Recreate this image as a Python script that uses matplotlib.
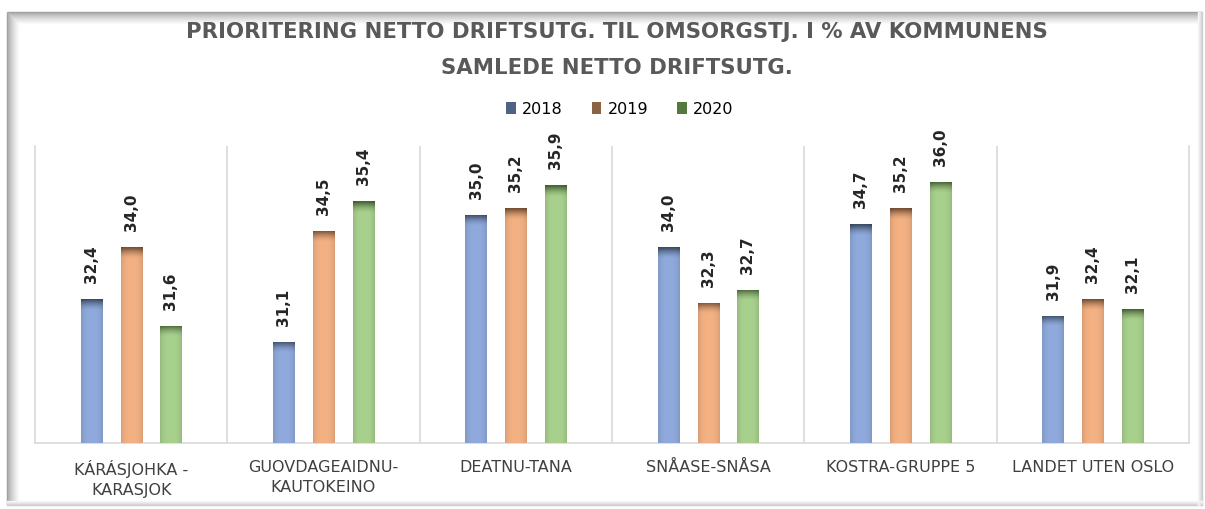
import matplotlib
matplotlib.use("Agg")
import matplotlib.pyplot as plt
import numpy as np
from matplotlib.colors import to_rgb
from matplotlib.patches import Patch, Rectangle

categories = ["KÁRÁSJOHKA -\nKARASJOK", "GUOVDAGEAIDNU-\nKAUTOKEINO", "DEATNU-TANA",
              "SNÅASE-SNÅSA", "KOSTRA-GRUPPE 5", "LANDET UTEN OSLO"]
series_names = ["2018", "2019", "2020"]
v2018 = [32.4, 31.1, 35.0, 34.0, 34.7, 31.9]
v2019 = [34.0, 34.5, 35.2, 32.3, 35.2, 32.4]
v2020 = [31.6, 35.4, 35.9, 32.7, 36.0, 32.1]
title = "PRIORITERING NETTO DRIFTSUTG. TIL OMSORGSTJ. I % AV KOMMUNENS\nSAMLEDE NETTO DRIFTSUTG."

series = [v2018, v2019, v2020]
main_cols = ["#8FAADC", "#F4B183", "#A9D18E"]
cap_cols = ["#3F4E68", "#7A5236", "#4A6637"]
leg_cols = ["#4F6285", "#8A6344", "#56783F"]

W, H = 1205, 509
fig = plt.figure(figsize=(W / 100, H / 100), dpi=100)
fig.patch.set_facecolor("white")

# background frame with inner shadow
bg = fig.add_axes([0, 0, 1, 1], zorder=-5)
bg.set_xlim(0, W)
bg.set_ylim(H, 0)
bg.axis("off")
L, T, R, B = 7, 12, 1202, 505
bg.add_patch(Rectangle((L, T), R - L, B - T, facecolor="white", edgecolor="none"))
for i in range(12):
    g = 0.62 + 0.38 * (i / 12) ** 0.7
    bg.plot([L + i, R], [T + i, T + i], color=(g, g, g), lw=1, solid_capstyle="butt")
    bg.plot([L + i, L + i], [T + i, B], color=(g, g, g), lw=1, solid_capstyle="butt")
for i in range(5):
    g = 0.80 + 0.2 * (i / 5)
    bg.plot([L, R], [B - i, B - i], color=(g, g, g), lw=1)
    bg.plot([R - i, R - i], [T, B], color=(g, g, g), lw=1)

ax_left, ax_right, ax_top, ax_bot = 35, 1189, 146, 443
ax = fig.add_axes([ax_left / W, 1 - ax_bot / H, (ax_right - ax_left) / W, (ax_bot - ax_top) / H])
ax.set_facecolor("none")
ymin, ymax = 28.0, 37.1
ax.set_xlim(-0.5, len(categories) - 0.5)
ax.set_ylim(ymin, ymax)

x = np.arange(len(categories))
offs = [-0.207, 0.0, 0.207]
bw = 0.11
px_per_unit = (ax_bot - ax_top) / (ymax - ymin)
cap = 11 / px_per_unit

for si, (vals, mc, cc) in enumerate(zip(series, main_cols, cap_cols)):
    bars = ax.bar(x + offs[si], vals, width=bw, color=mc, zorder=2, linewidth=0)
    for b, v in zip(bars, vals):
        x0 = b.get_x()
        x1 = x0 + b.get_width()
        n = 120
        ys = np.linspace(v, ymin, n)  # top row first
        xs = np.linspace(-1, 1, 20)
        img = np.zeros((n, 20, 3))
        base = np.array(to_rgb(mc))
        capc = np.array(to_rgb(cc))
        for r, yy in enumerate(ys):
            d = v - yy
            t = np.clip(d / cap, 0, 1)
            w = (1 - t) ** 1.6
            rowc = capc * w + base * (1 - w)
            for k, xx in enumerate(xs):
                edge = 1 - 0.10 * abs(xx) ** 3
                img[r, k] = np.clip(rowc * edge, 0, 1)
        im = ax.imshow(img, extent=(x0, x1, ymin, v), aspect="auto", zorder=3,
                       interpolation="bilinear")
        im.set_clip_path(b)
        ax.annotate(f"{v:.1f}".replace(".", ","), (b.get_x() + b.get_width() / 2, v),
                    xytext=(0, 16), textcoords="offset pixels", rotation=90,
                    ha="center", va="bottom", fontsize=11, fontweight="bold",
                    color="#262626", zorder=5)

ax.set_xlim(-0.5, len(categories) - 0.5)
ax.set_ylim(ymin, ymax)

ax.spines["top"].set_visible(False)
for s in ["left", "right", "bottom"]:
    ax.spines[s].set_color("#D9D9D9")
    ax.spines[s].set_linewidth(1.2)
for k in range(1, len(categories)):
    ax.axvline(k - 0.5, color="#D9D9D9", lw=1.2, zorder=1)

ax.set_yticks([])
ax.set_xticks(x)
ax.set_xticklabels(categories, fontsize=11.5, color="#404040", linespacing=1.45,
                   va="top")
ax.tick_params(axis="x", length=0, pad=12)

fig.text(617 / W, 1 - 50 / H, title, ha="center", va="center", fontsize=15.3,
         fontweight="bold", color="#595959", linespacing=1.95)

handles = [Patch(facecolor=c, edgecolor="none") for c in leg_cols]
fig.legend(handles, series_names, loc="center", bbox_to_anchor=(620 / W, 1 - 109 / H),
           ncol=3, frameon=False, fontsize=11.5, handlelength=0.6, handleheight=0.7,
           handletextpad=0.4, columnspacing=1.8)

fig.savefig("out.png", dpi=100, facecolor="white")
